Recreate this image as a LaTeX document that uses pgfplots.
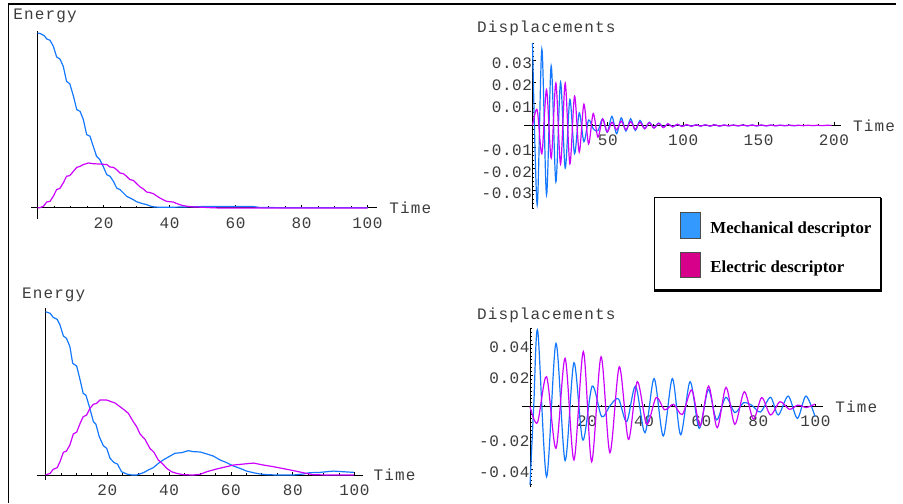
\documentclass[border=0pt]{standalone}
\usepackage{fontspec}
\usepackage{pgfplots}
\pgfplotsset{compat=1.18}
\newfontfamily\mono[LetterSpace=4]{Liberation Mono}
\newfontfamily\monol[LetterSpace=7]{Liberation Mono}
\newfontfamily\tms{Liberation Serif}
\definecolor{mblue}{RGB}{20,120,255}
\definecolor{mmag}{RGB}{204,0,255}
\definecolor{swblue}{RGB}{51,153,255}
\definecolor{swmag}{RGB}{214,0,138}
\definecolor{lbl}{RGB}{60,60,60}

\pgfplotsset{
  mma/.style={
    scale only axis, anchor=south west,
    axis lines=middle,
    axis line style={-, line width=0.5pt, black},
    every inner x axis line/.append style={-},
    every inner y axis line/.append style={-},
    scaled ticks=false,
    tick align=inside,
    major tick length=1.5pt, minor tick length=0.8pt,
    tick style={line width=0.4pt, black},
    ticklabel style={font=\mono\fontsize{8}{9}\selectfont, text=lbl, inner sep=0pt},
    xticklabel style={anchor=north, yshift=-4.5pt},
    yticklabel style={anchor=east, yshift=-1.5pt},
    clip=false,
  },
  mb/.style={mblue, line width=0.6pt},
  mm/.style={mmag, line width=0.6pt},
}
\tikzset{lab/.style={anchor=base west, inner sep=0pt, text=lbl, font=\monol\fontsize{8}{9}\selectfont}}

\begin{document}
\begin{tikzpicture}
\useasboundingbox (0,0) rectangle (451.5pt,251.5pt);

% top left: energy
\begin{axis}[mma, at={(15.45pt,142pt)}, width=173.25pt, height=93.98pt,
  xmin=-2, xmax=103, ymin=-0.063, ymax=1.011,
  xtick={20,40,60,80,100}, xticklabels={20,40,60,80,100},
  minor xtick={5,10,...,100}, ytick=\empty]
\addplot[mb] coordinates {(0,1.0) (1,0.995) (2,0.985) (2.8,0.966) (3.8,0.958) (4.8,0.924) (5.8,0.863) (6.8,0.851) (7.8,0.81) (8.8,0.724) (9.8,0.709) (10.9,0.638) (11.9,0.562) (12.9,0.552) (13.9,0.505) (14.9,0.419) (15.9,0.41) (16.9,0.352) (17.9,0.295) (18.9,0.276) (19.9,0.238) (21,0.19) (22,0.181) (23,0.152) (24,0.114) (25,0.105) (26,0.086) (27,0.067) (28,0.057) (29,0.048) (30,0.036) (31.1,0.029) (32,0.024) (33.1,0.019) (34,0.012) (35.1,0.006) (37,0.004) (40,0.004) (45,0.006) (50,0.008) (65.4,0.008) (67.4,0.003) (77.5,0.001) (100,0.001)};
\addplot[mm] coordinates {(0,0) (0.8,0.002) (1.8,0.01) (2.8,0.034) (3.8,0.038) (4.8,0.067) (5.8,0.105) (6.8,0.112) (7.8,0.143) (8.8,0.181) (9.8,0.185) (10.9,0.21) (11.9,0.232) (12.9,0.238) (13.9,0.248) (15.4,0.257) (16.9,0.253) (18.9,0.251) (21,0.248) (22,0.234) (23,0.232) (24,0.219) (25,0.2) (26,0.196) (27,0.181) (28,0.162) (29,0.158) (30,0.14) (31.1,0.12) (32,0.11) (33.1,0.091) (34,0.088) (35.1,0.082) (36,0.07) (37.1,0.057) (38,0.048) (39.1,0.038) (40,0.036) (41.1,0.034) (42,0.027) (43.1,0.019) (44,0.014) (45.2,0.01) (47.2,0.006) (50,0.004) (52,0.002) (55,0) (100,0)};
\end{axis}

% top right: displacements
\begin{axis}[mma, at={(262.03pt,147pt)}, width=158.46pt, height=83pt,
  xmin=-5.6, xmax=204.7, ymin=-0.0385, ymax=0.038,
  xtick={50,100,150,200}, xticklabels={50,100,150,200},
  minor xtick={10,20,...,200},
  ytick={-0.03,-0.02,-0.01,0.01,0.02,0.03},
  yticklabels={-0.03,-0.02,-0.01,0.01,0.02,0.03},
  minor ytick={-0.038,-0.036,...,0.0381}]
\addplot[mb, smooth] coordinates {(0,0.038) (3.1,-0.0366) (6.2,0.0352) (9.3,-0.032) (12.4,0.0275) (15.5,-0.026) (18.6,0.020) (21.7,-0.0197) (24.8,0.012) (27.9,-0.013) (31.0,0.0058) (34.1,-0.0075) (37.2,0.0025) (40.3,-0.0015) (43.4,-0.0025) (46.5,0.0031) (49.6,-0.0031) (52.7,0.0042) (55.8,-0.0038) (58.9,0.0035) (62,-0.0026) (65.1,0.0031) (68.2,-0.0023) (71.3,0.0023) (74.4,-0.0015) (77.5,0.0015) (80.6,-0.0011) (83.7,0.0011) (86.8,-0.0008) (89.9,0.0007) (93,-0.0006) (96.1,0.0005) (99.2,-0.0004) (102.3,0.0003) (105.4,-0.0003) (108.5,0.0003) (111.6,-0.0003) (114.7,0.0003) (117.8,-0.0003) (120.9,0.0003) (124,-0.0003) (127.1,0.0002) (130.2,-0.0002) (133.3,0.0002) (136.4,-0.0002) (139.5,0.0002) (142.6,-0.0002) (145.7,0.0002) (148.8,-0.0002) (151.9,0.0002) (155,-0.0002) (158.1,0.0001) (161.2,-0.0001) (164.3,0.0001) (167.4,-0.0001) (170.5,0.0001) (173.6,-0.0001) (176.7,0)};
\addplot[mm, smooth] coordinates {(0,0) (3.1,0.0072) (6.2,-0.013) (9.3,0.0165) (12.4,-0.015) (15.5,0.0195) (18.6,-0.0178) (21.7,0.0195) (24.8,-0.0177) (27.9,0.0135) (31,-0.0123) (34.1,0.0098) (37.2,-0.0085) (40.3,0.0055) (43.4,-0.0054) (46.5,0.003) (49.6,-0.003) (52.7,0.0015) (55.8,-0.002) (58.9,0.002) (62,-0.002) (65.1,0.0018) (68.2,-0.0018) (71.3,0.0015) (74.4,-0.0015) (77.5,0.0013) (80.6,-0.0012) (83.7,0.001) (86.8,-0.001) (89.9,0.0008) (93,-0.0007) (96.1,0.0006) (99.2,-0.0005) (102.3,0.0004) (105.4,-0.0004) (108.5,0.0003) (111.6,-0.0003) (114.7,0.0003) (117.8,-0.0003) (120.9,0.0003) (124,-0.0003) (127.1,0.0002) (130.2,-0.0002) (133.3,0.0002) (136.4,-0.0002) (139.5,0.0002) (142.6,-0.0002) (145.7,0.0002) (148.8,-0.0002) (151.9,0.0002) (155,-0.0002) (158.1,0.0002) (161.2,-0.0002) (164.3,0.0001) (167.4,-0.0001) (170.5,0.0001) (173.6,-0.0001) (176.7,0.0001) (179.8,-0.0001) (182.9,0.0001) (186,-0.0001) (189.1,0.0001) (192.2,-0.0001) (195.3,0.0001) (198.4,0)};
\end{axis}

% bottom left: energy
\begin{axis}[mma, at={(18.65pt,11.47pt)}, width=162.7pt, height=86.06pt,
  xmin=-2.65, xmax=102.65, ymin=-0.031, ymax=1.023,
  xtick={20,40,60,80,100}, xticklabels={20,40,60,80,100},
  minor xtick={5,10,...,100}, ytick=\empty]
\addplot[mb] coordinates {(0,1.0) (1.5,0.99) (2.5,0.965) (3.8,0.953) (4.7,0.918) (5.8,0.851) (6.8,0.837) (7.9,0.786) (8.8,0.684) (10.1,0.667) (11.2,0.582) (12.2,0.5) (13.1,0.488) (14.2,0.418) (15.5,0.327) (16.3,0.312) (17.4,0.235) (18.7,0.18) (19.8,0.163) (20.9,0.102) (22.2,0.076) (23.3,0.067) (24.6,0.02) (26.3,0.006) (27.9,0) (29.5,0) (31.7,0.014) (33.3,0.031) (34.9,0.045) (36.5,0.071) (38.1,0.092) (40.3,0.116) (41.9,0.133) (44.1,0.137) (46.2,0.149) (47.9,0.143) (50,0.141) (52.2,0.129) (54.3,0.116) (56.5,0.092) (58.6,0.076) (60.8,0.055) (62.9,0.041) (65.1,0.024) (67.3,0.014) (69.4,0.006) (71.6,0.002) (74.9,0) (80.2,0) (83.4,0.006) (85.5,0.014) (88.8,0.016) (93.2,0.024) (96.4,0.02) (99.8,0.016)};
\addplot[mm] coordinates {(0,0) (1.5,0.01) (2.5,0.035) (3.8,0.045) (4.7,0.082) (5.8,0.139) (6.8,0.147) (7.9,0.184) (9.0,0.251) (10.1,0.263) (11.2,0.316) (12.2,0.357) (13.3,0.367) (14.4,0.408) (15.5,0.433) (16.6,0.439) (17.6,0.459) (19.8,0.459) (22.5,0.441) (25.4,0.4) (26.8,0.378) (28.4,0.327) (29.5,0.296) (30.6,0.251) (32.2,0.218) (33.8,0.163) (35.1,0.139) (36.5,0.092) (38.1,0.065) (39.2,0.041) (40.8,0.02) (42.4,0.01) (44.6,0.002) (47.8,0) (50,0.004) (52.2,0.02) (55.4,0.037) (58.6,0.051) (60.8,0.061) (64,0.067) (67.3,0.073) (70.5,0.061) (73.7,0.051) (77,0.039) (80.2,0.027) (83.4,0.014) (86.6,0.002) (91,0) (99.8,0)};
\end{axis}

% bottom right: displacements
\begin{axis}[mma, at={(260.86pt,8.15pt)}, width=150.8pt, height=79.25pt,
  xmin=-2.9, xmax=102.8, ymin=-0.0513, ymax=0.0503,
  xtick={20,40,60,80,100}, xticklabels={20,40,60,80,100},
  minor xtick={5,10,...,100},
  ytick={-0.04,-0.02,0.02,0.04}, yticklabels={-0.04,-0.02,0.02,0.04},
  minor ytick={-0.05,-0.0475,...,0.0501}]
\addplot[mb, smooth] coordinates {(0,-0.050) (1.3,0) (2.7,0.0487) (5.8,-0.0449) (9.1,0.0406) (12.3,-0.0346) (15.4,0.0282) (18.5,-0.0214) (21.8,0.0132) (25.1,-0.0064) (28.0,0.0005) (31.0,0.005) (33.9,-0.0096) (37.0,0.0132) (40.3,-0.0167) (43.5,0.018) (46.7,-0.0188) (49.9,0.018) (52.8,-0.018) (56.1,0.016) (59.3,-0.0139) (62.5,0.011) (65.4,-0.0085) (68.6,0.006) (71.8,-0.0038) (74.8,0.0025) (77.8,0.0008) (80.8,-0.0034) (84.3,0.006) (87.0,-0.0053) (90.5,0.0068) (93.7,-0.0075) (96.7,0.0068) (99.9,-0.0064)};
\addplot[mm, smooth] coordinates {(0,0) (2.6,-0.0103) (5.8,0.0192) (9.1,-0.0267) (12.3,0.031) (15.4,-0.0342) (18.7,0.0353) (21.6,-0.0353) (24.9,0.032) (28.0,-0.0295) (31.3,0.0256) (34.5,-0.021) (37.6,0.016) (40.9,-0.0113) (44.2,0.0058) (47.2,-0.002) (50.3,0.0015) (53.4,-0.005) (56.7,0.0107) (59.6,-0.0124) (62.6,0.0132) (65.6,-0.0135) (68.7,0.0124) (71.8,-0.0113) (75.1,0.0096) (78.3,-0.008) (81.2,0.0058) (84.3,-0.0053) (87.6,0.0032) (90.9,-0.0017) (93.9,0.001) (96.9,-0.0005) (99.9,0.0017)};
\end{axis}

% axis titles
\node[lab] at (6.5pt,241.85pt) {Energy};
\node[lab] at (194.5pt,144.5pt) {Time};
\node[lab] at (238.35pt,235.15pt) {Displacements};
\node[lab] at (426.35pt,185.65pt) {Time};
\node[lab] at (10.85pt,102.35pt) {Energy};
\node[lab] at (186.65pt,11.5pt) {Time};
\node[lab] at (238.35pt,91.85pt) {Displacements};
\node[lab] at (417.5pt,45.15pt) {Time};

% frame lines
\draw[line width=1pt] (4pt,249.5pt) -- (448pt,249.5pt);
\draw[line width=0.6pt] (4.25pt,249.5pt) -- (4.25pt,0pt);

% legend
\draw[line width=0.5pt] (327pt,106.5pt) rectangle (440.35pt,152.5pt);
\draw[line width=1.2pt] (440.6pt,152.5pt) -- (440.6pt,106.2pt) -- (327pt,106.2pt);
\filldraw[fill=swblue, draw=black!70, line width=0.3pt] (340.35pt,132.35pt) rectangle (350pt,145.15pt);
\filldraw[fill=swmag, draw=black!70, line width=0.3pt] (340.35pt,112.85pt) rectangle (350pt,125.15pt);
\node[anchor=base west, inner sep=0pt, font=\tms\bfseries\fontsize{8.4}{10}\selectfont] at (355pt,134.85pt) {Mechanical descriptor};
\node[anchor=base west, inner sep=0pt, font=\tms\bfseries\fontsize{8.4}{10}\selectfont] at (355pt,115.15pt) {Electric descriptor};
\end{tikzpicture}
\end{document}
